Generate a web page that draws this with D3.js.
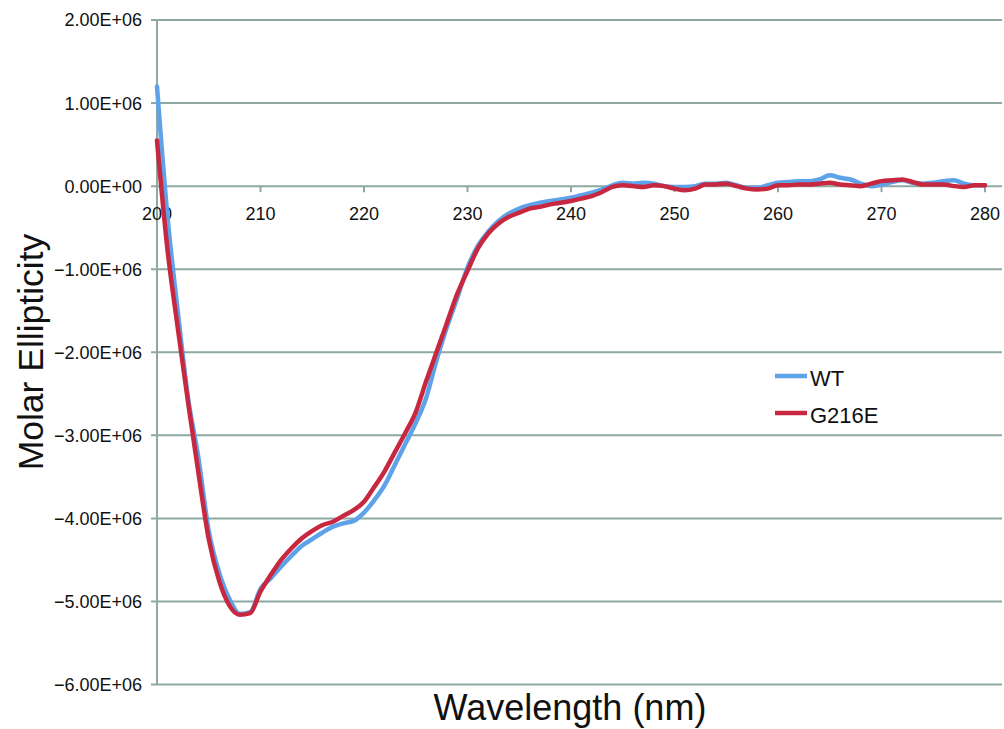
<!DOCTYPE html>
<html>
<head>
<meta charset="utf-8">
<script src="https://cdn.jsdelivr.net/npm/d3@7"></script>
<style>
  body { margin: 0; background: #fff; }
  svg { display: block; font-family: "Liberation Sans", Arial, sans-serif; }
</style>
</head>
<body>
<svg id="chart" width="1004" height="729"></svg>
<script>
// wavelength, 200..280 nm in 1 nm steps
const wavelengths = d3.range(200, 281);

// molar ellipticity, in units of 1E+06
const wtValues = [
  1.20, -0.35, -1.50, -2.55, -3.27, -4.15, -4.65, -4.97, -5.15, -5.13,
  -4.85, -4.72, -4.58, -4.45, -4.33, -4.25, -4.17, -4.10, -4.06, -4.03,
  -3.93, -3.78, -3.60, -3.35, -3.10, -2.85, -2.55, -2.10, -1.70, -1.35,
  -0.98, -0.72, -0.55, -0.42, -0.33, -0.27, -0.23, -0.20, -0.18, -0.16,
  -0.14, -0.11, -0.08, -0.04, 0.01, 0.04, 0.03, 0.04, 0.03, 0.00,
  -0.01, -0.01, 0.00, 0.03, 0.03, 0.04, 0.01, -0.02, -0.02, 0.01,
  0.04, 0.05, 0.06, 0.06, 0.08, 0.13, 0.10, 0.08, 0.03, 0.00,
  0.02, 0.05, 0.07, 0.04, 0.03, 0.04, 0.06, 0.07, 0.03, 0.01,
  0.01
];

const g216eValues = [
  0.55, -0.75, -1.70, -2.60, -3.45, -4.25, -4.75, -5.05, -5.16, -5.14,
  -4.88, -4.68, -4.50, -4.36, -4.24, -4.15, -4.08, -4.04, -3.97, -3.90,
  -3.80, -3.62, -3.43, -3.20, -2.97, -2.72, -2.35, -2.00, -1.65, -1.30,
  -1.02, -0.75, -0.57, -0.45, -0.37, -0.32, -0.27, -0.25, -0.22, -0.20,
  -0.18, -0.15, -0.12, -0.07, -0.01, 0.01, 0.00, -0.01, 0.01, 0.00,
  -0.03, -0.05, -0.03, 0.02, 0.02, 0.03, 0.00, -0.03, -0.04, -0.03,
  0.01, 0.01, 0.02, 0.02, 0.03, 0.04, 0.02, 0.01, 0.00, 0.03,
  0.06, 0.07, 0.08, 0.05, 0.02, 0.02, 0.02, 0.00, -0.01, 0.01,
  0.01
];

const seriesNames = ["WT", "G216E"];
const seriesColors = ["#5ea3ea", "#c8283f"];
const xTicks = [200, 210, 220, 230, 240, 250, 260, 270, 280];
const yTicks = [2e6, 1e6, 0, -1e6, -2e6, -3e6, -4e6, -5e6, -6e6];

const Grid = { color: "#8ea9a2", thickness: 2 };

const svg = d3.select("#chart");

const x = d3.scaleLinear().domain([200, 280]).range([157, 985]);
const y = d3.scaleLinear().domain([-6e6, 2e6]).range([684.5, 20]);

const fmtY = d => {
  const e = d3.format(".2e")(d);           // e.g. "2.00e+6"
  const [m, p] = e.split("e");
  const sign = p[0];
  const exp = p.slice(1).padStart(2, "0");
  return `${m}E${sign}${exp}`;
};

// horizontal grid lines
svg.append("g")
  .selectAll("line")
  .data(yTicks)
  .join("line")
  .attr("x1", 151)
  .attr("x2", 1002)
  .attr("y1", d => y(d))
  .attr("y2", d => y(d))
  .attr("stroke", Grid.color)
  .attr("stroke-width", Grid.thickness);

// y axis line
svg.append("line")
  .attr("x1", x(200)).attr("x2", x(200))
  .attr("y1", y(2e6)).attr("y2", y(-6e6))
  .attr("stroke", Grid.color)
  .attr("stroke-width", Grid.thickness);

// y tick labels
svg.append("g")
  .selectAll("text")
  .data(yTicks)
  .join("text")
  .attr("x", 142)
  .attr("y", d => y(d))
  .attr("dy", "0.36em")
  .attr("text-anchor", "end")
  .attr("font-size", "18px")
  .attr("fill", "#111")
  .text(fmtY);

// x ticks on the zero line
const xAxisG = svg.append("g");
xAxisG.selectAll("line")
  .data(xTicks)
  .join("line")
  .attr("x1", d => x(d)).attr("x2", d => x(d))
  .attr("y1", y(0)).attr("y2", y(0) + 6)
  .attr("stroke", Grid.color)
  .attr("stroke-width", Grid.thickness);

xAxisG.selectAll("text")
  .data(xTicks)
  .join("text")
  .attr("x", d => x(d))
  .attr("y", 220)
  .attr("text-anchor", "middle")
  .attr("font-size", "18px")
  .attr("fill", "#111")
  .text(d => d);

// curves
const line = d3.line()
  .x((d, i) => x(wavelengths[i]))
  .y(d => y(d * 1e6))
  .curve(d3.curveMonotoneX);

[wtValues, g216eValues].forEach((vals, i) => {
  svg.append("path")
    .datum(vals)
    .attr("d", line)
    .attr("fill", "none")
    .attr("stroke", seriesColors[i])
    .attr("stroke-width", 4.5)
    .attr("stroke-linejoin", "round")
    .attr("stroke-linecap", "round");
});

// legend
const legend = svg.append("g").attr("transform", "translate(775,376)");
seriesNames.forEach((name, i) => {
  const row = legend.append("g").attr("transform", `translate(0,${i * 37})`);
  row.append("line")
    .attr("x1", 0).attr("x2", 32)
    .attr("y1", 0).attr("y2", 0)
    .attr("stroke", seriesColors[i])
    .attr("stroke-width", 4.5);
  row.append("text")
    .attr("x", 35)
    .attr("y", 10)
    .attr("font-size", "22px")
    .attr("fill", "#111")
    .text(name);
});

// axis titles
svg.append("text")
  .attr("transform", "translate(43,352) rotate(-90)")
  .attr("text-anchor", "middle")
  .attr("font-size", "35.5px")
  .attr("fill", "#111")
  .text("Molar Ellipticity");

svg.append("text")
  .attr("x", 570)
  .attr("y", 720)
  .attr("text-anchor", "middle")
  .attr("font-size", "36px")
  .attr("fill", "#111")
  .text("Wavelength (nm)");
</script>
</body>
</html>
